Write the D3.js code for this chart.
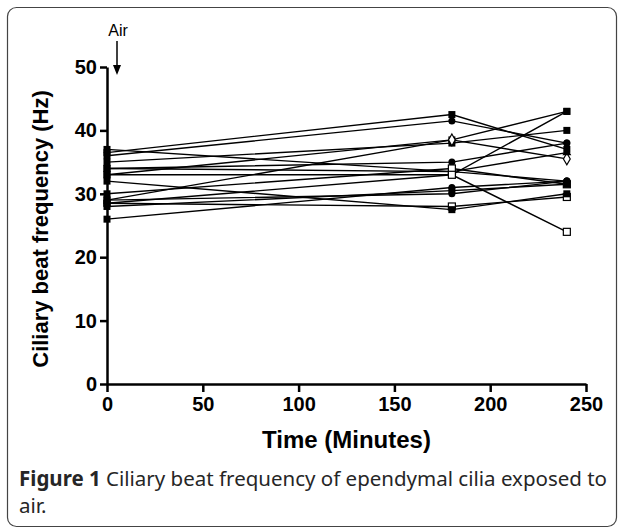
<!DOCTYPE html>
<html>
<head>
<meta charset="utf-8">
<script src="https://cdn.jsdelivr.net/npm/d3@7"></script>
<style>
  body { margin: 0; background: #fff; }
  svg { display: block; }
</style>
</head>
<body>
<div id="chart"></div>
<script>

// sampling times (minutes)
var times = [0, 180, 240];

// one row per preparation: CBF (Hz) at each time
var seriesValues = [
    [36.5, 42.5, 37],
    [36, 41.5, 38],
    [33, 38.5, 43],
    [35, 38, 40],
    [29, 38.5, 35.5],
    [34, 35, 38],
    [37, 33.5, 36.5],
    [28.5, 33, 43],
    [34, 33.5, 32],
    [30, 34, 31.5],
    [28, 30.5, 31.5],
    [29, 30, 32],
    [28.5, 28, 29.5],
    [32, 27.5, 30],
    [33, 33, 24],
    [26, 31, 32]
];

var markerShapes = ["square", "circle", "square", "square", "diamond", "circle",
    "triangle", "square", "circle", "opensquare", "square", "circle",
    "opensquare", "square", "opensquare", "circle"];

var xTicks = [0, 50, 100, 150, 200, 250];
var yTicks = [0, 10, 20, 30, 40, 50];

var W = 624, H = 531;

var svg = d3.select("#chart").append("svg")
    .attr("width", W)
    .attr("height", H);

// figure frame
svg.append("rect")
    .attr("x", 7.5).attr("y", 7.5)
    .attr("width", 609).attr("height", 519)
    .attr("rx", 9).attr("ry", 9)
    .style("fill", "none")
    .style("stroke", "#444")
    .style("stroke-width", 1.2);

var x = d3.scaleLinear().domain([0, 250]).range([107, 586]);
var y = d3.scaleLinear().domain([0, 50]).range([384, 67]);

var axisFont = "'Liberation Sans', Arial, sans-serif";

// x axis
var gx = svg.append("g")
    .attr("transform", "translate(0," + y(0) + ")")
    .call(d3.axisBottom(x).tickValues(xTicks).tickSize(8).tickPadding(5).tickSizeOuter(0));
gx.select(".domain").attr("stroke-width", 2.5);
gx.selectAll(".tick line").attr("stroke-width", 2.5);
gx.selectAll(".tick text")
    .style("font-family", axisFont)
    .style("font-size", "20px")
    .style("font-weight", "bold")
    .attr("fill", "#000");

// y axis
var gy = svg.append("g")
    .attr("transform", "translate(" + x(0) + ",0)")
    .call(d3.axisLeft(y).tickValues(yTicks).tickSize(7).tickPadding(3).tickSizeOuter(0));
gy.select(".domain").attr("stroke-width", 2.5);
gy.selectAll(".tick line").attr("stroke-width", 2.5);
gy.selectAll(".tick text")
    .style("font-family", axisFont)
    .style("font-size", "20px")
    .style("font-weight", "bold")
    .attr("fill", "#000");

// axis titles
svg.append("text")
    .attr("x", (x(0) + x(250)) / 2)
    .attr("y", 448)
    .style("text-anchor", "middle")
    .style("font-family", axisFont)
    .style("font-size", "24px")
    .style("font-weight", "bold")
    .text("Time (Minutes)");

svg.append("text")
    .attr("transform", "translate(48," + 229 + ") rotate(-90)")
    .style("text-anchor", "middle")
    .style("font-family", axisFont)
    .style("font-size", "22px")
    .style("font-weight", "bold")
    .text("Ciliary beat frequency (Hz)");

// "Air" marker
svg.append("defs").append("marker")
    .attr("id", "arrowhead")
    .attr("refX", 5).attr("refY", 4)
    .attr("markerWidth", 10).attr("markerHeight", 10)
    .attr("markerUnits", "userSpaceOnUse")
    .attr("orient", "auto")
    .append("path")
    .attr("d", "M 0 0 L 10 4 L 0 8 Z")
    .style("fill", "black");

svg.append("text")
    .attr("x", 118).attr("y", 36)
    .style("text-anchor", "middle")
    .style("font-family", axisFont)
    .style("font-size", "16px")
    .text("Air");

svg.append("line")
    .attr("x1", 117).attr("y1", 41)
    .attr("x2", 117).attr("y2", 70)
    .attr("stroke", "black")
    .attr("stroke-width", 1.5)
    .attr("marker-end", "url(#arrowhead)");

// data lines
var line = d3.line()
    .x(function(d, i) { return x(times[i]); })
    .y(function(d) { return y(d); });

var plot = svg.append("g");

plot.selectAll("path.series")
    .data(seriesValues)
    .enter().append("path")
    .attr("class", "series")
    .attr("d", line)
    .style("fill", "none")
    .style("stroke", "black")
    .style("stroke-width", 1.4);

// markers
seriesValues.forEach(function(vals, s) {
    vals.forEach(function(v, i) {
        var cx = x(times[i]), cy = y(v);
        // all look like small filled squares on the axis
        var shape = i === 0 ? "square" : markerShapes[s];
        if (shape === "circle") {
            plot.append("circle").attr("cx", cx).attr("cy", cy).attr("r", 3.5)
                .style("fill", "black");
        } else if (shape === "diamond") {
            plot.append("path")
                .attr("d", d3.symbol().type(d3.symbolDiamond).size(40))
                .attr("transform", "translate(" + cx + "," + cy + ")")
                .style("fill", "white").style("stroke", "black").style("stroke-width", 1.2);
        } else if (shape === "triangle") {
            plot.append("path")
                .attr("d", d3.symbol().type(d3.symbolTriangle).size(35))
                .attr("transform", "translate(" + cx + "," + cy + ")")
                .style("fill", "black");
        } else if (shape === "opensquare") {
            plot.append("rect").attr("x", cx - 3.5).attr("y", cy - 3.5)
                .attr("width", 7).attr("height", 7)
                .style("fill", "white").style("stroke", "black").style("stroke-width", 1.2);
        } else {
            plot.append("rect").attr("x", cx - 3.5).attr("y", cy - 3.5)
                .attr("width", 7).attr("height", 7)
                .style("fill", "black");
        }
    });
});

// caption
var captionFont = "'Noto Sans', 'Open Sans', sans-serif";
var cap = svg.append("text")
    .attr("x", 19).attr("y", 486)
    .style("font-family", captionFont)
    .style("font-size", "20.5px")
    .attr("fill", "#262626");
cap.append("tspan").style("font-weight", "bold").text("Figure 1");
cap.append("tspan").text(" Ciliary beat frequency of ependymal cilia exposed to");

svg.append("text")
    .attr("x", 19).attr("y", 513)
    .style("font-family", captionFont)
    .style("font-size", "20.5px")
    .attr("fill", "#262626")
    .text("air.");

</script>
</body>
</html>
